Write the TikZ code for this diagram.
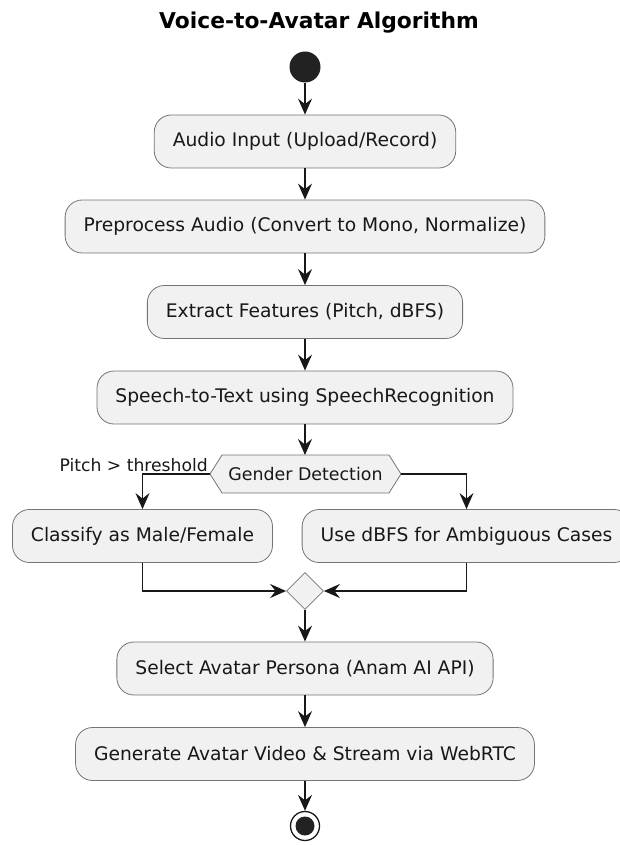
\documentclass[tikz,border=0pt]{standalone}
\usepackage{fontspec}
\setmainfont{DejaVu Sans}
\usetikzlibrary{arrows.meta,shapes.geometric}
\definecolor{boxfill}{HTML}{F1F1F1}
\definecolor{linecol}{HTML}{181818}
\definecolor{dotcol}{HTML}{222222}
\begin{document}
\begin{tikzpicture}[x=1pt,y=-1pt,
  txt/.style={font=\fontsize{18.7}{22}\selectfont, text=linecol},
  act/.style={txt, draw=linecol!60, line width=0.8pt, fill=boxfill, rounded corners=17pt,
    minimum height=53pt, inner xsep=18.5pt},
  shapeline/.style={draw=linecol!60, line width=0.8pt, fill=boxfill},
  merge/.style={shapeline, diamond, minimum size=37pt, inner sep=0pt},
  flow/.style={draw=linecol, line width=1.4pt, -{Stealth[length=16pt,width=14pt,inset=5.5pt]}},
  lbl/.style={font=\fontsize{17.2}{20}\selectfont, text=linecol, inner sep=0pt}
]
\useasboundingbox (0,0) rectangle (620,845);

\node[font=\bfseries\fontsize{21.8}{25}\selectfont, text=black, anchor=base, inner sep=0pt] (title) at (319,29) {Voice-to-Avatar Algorithm};

\node[circle, fill=dotcol, minimum size=31pt, inner sep=0pt] (start) at (305,67) {};
\node[act] (a1) at (305,141.5) {Audio Input (Upload/Record)};
\node[act] (a2) at (305,226.5) {Preprocess Audio (Convert to Mono, Normalize)};
\node[act] (a3) at (305,312) {Extract Features (Pitch, dBFS)};
\node[act] (a4) at (305,397.5) {Speech-to-Text using SpeechRecognition};

% hexagon decision
\coordinate (gc) at (305.5,474);
\coordinate (gw) at (210,474);
\coordinate (ge) at (401,474);
\coordinate (gn) at (305,455);
\draw[shapeline] (gw) -- (222,455) -- (389,455) -- (ge) -- (389,493) -- (222,493) -- cycle;
\node[font=\fontsize{17.4}{20}\selectfont, text=linecol, inner sep=0pt] (g) at (gc) {Gender Detection};

\node[act] (b1) at (142.5,536) {Classify as Male/Female};
\node[act] (b2) at (466.5,536) {Use dBFS for Ambiguous Cases};
\node[merge] (m) at (305,591) {};
\node[act] (a5) at (305,668.5) {Select Avatar Persona (Anam AI API)};
\node[act] (a6) at (305,754) {Generate Avatar Video \& Stream via WebRTC};
\node[circle, draw=linecol, line width=1.3pt, minimum size=29pt, inner sep=0pt] (end) at (305,826) {};
\node[circle, fill=dotcol, minimum size=19pt, inner sep=0pt] (endin) at (end.center) {};

\node[lbl, anchor=base east] (cond) at ([shift={(-2pt,3pt)}]gw) {Pitch > threshold};

\draw[flow] (start) -- (a1);
\draw[flow] (a1) -- (a2);
\draw[flow] (a2) -- (a3);
\draw[flow] (a3) -- (a4);
\draw[flow] (a4.south) -- (gn);
\draw[flow] (gw) -| (b1.north);
\draw[flow] (ge) -| (b2.north);
\draw[flow] (b1.south) |- (m.west);
\draw[flow] (b2.south) |- (m.east);
\draw[flow] (m) -- (a5);
\draw[flow] (a5) -- (a6);
\draw[flow] (a6) -- (end);
\end{tikzpicture}
\end{document}
